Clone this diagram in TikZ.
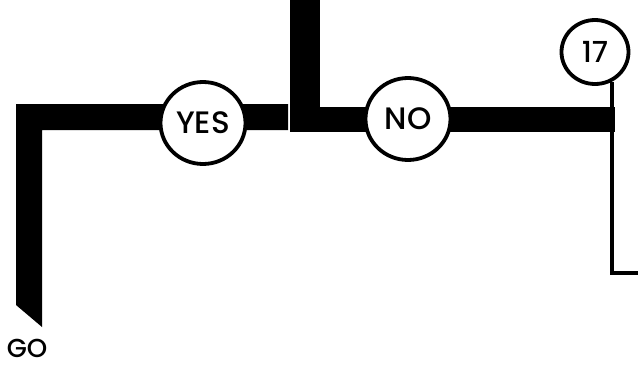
\documentclass[tikz,border=0pt]{standalone}
\usepackage{fontspec}
\setmainfont{Poppins}[UprightFont={* Medium}]
\usetikzlibrary{shapes.geometric, backgrounds}

\begin{document}
\begin{tikzpicture}[x=1pt, y=-1pt,
    answer/.style={draw, ellipse, line width=3.8pt, fill=white, inner sep=0pt, minimum width=85pt, minimum height=82pt, font=\fontsize{31}{33}\selectfont},
    wire/.style={draw, line width=4.5pt}]
  \useasboundingbox (0,0) rectangle (638,365);
  \node[answer] (yes) at (203,123) {YES};
  \node[answer] (no) at (408,119) {NO};
  \node[answer, minimum width=67pt, minimum height=64pt, font=\fontsize{29}{31}\selectfont] (seventeen) at (595,52) {17};
  \node[inner sep=0pt, font=\fontsize{26}{28}\selectfont] (go) at (27,348) {GO};
  \coordinate (exit) at (638,273);
  \begin{scope}[on background layer]
    % left branch down to GO
    \fill (288,104) -- (16,104) -- (16,305) -- (42,327) -- (42,130) -- (288,130) -- cycle;
    % trunk from above and right branch
    \fill (290,0) rectangle (320,132);
    \fill (290,107) rectangle (615,132);
  \end{scope}
  \draw[wire] (seventeen.-60) |- (exit);
\end{tikzpicture}
\end{document}
